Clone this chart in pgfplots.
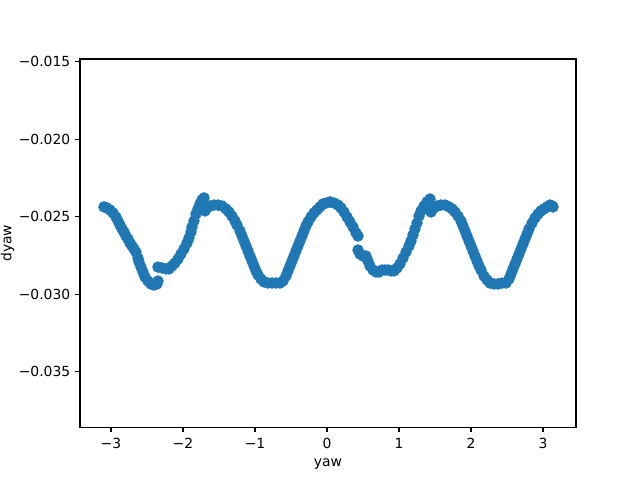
\documentclass[border=0pt]{standalone}
\usepackage{pgfplots}
\pgfplotsset{compat=1.18}
\usepackage{fontspec}
\setmainfont{DejaVu Sans}
\usetikzlibrary{calc}
\definecolor{Czero}{HTML}{1F77B4}
\begin{document}
\begin{tikzpicture}
\begin{axis}[name=ax, scale only axis, width=357.1pt, height=265.2pt,
  xmin=-3.43, xmax=3.458, ymin=-0.03859, ymax=-0.01483,
  xtick={-3,-2,-1,0,1,2,3}, xticklabels={−3,−2,−1,0,1,2,3},
  ytick={-0.035,-0.03,-0.025,-0.02,-0.015},
  yticklabels={−0.035,−0.030,−0.025,−0.020,−0.015},
  scaled y ticks=false, scaled x ticks=false,
  tick align=outside, xtick pos=left, ytick pos=left,
  major tick length=3.5pt, tick style={black, line width=0.8pt},
  axis line style={line width=0.8pt},
  tick label style={font=\fontsize{10}{12}\selectfont},
  label style={font=\fontsize{10}{12}\selectfont},
  xlabel={yaw}, ylabel={dyaw},
  ylabel style={at={(axis description cs:-0.146,0.5)}, anchor=center, inner sep=0pt},
  xticklabel style={yshift=-1pt},
  clip=false]
\addplot[only marks, mark=*, mark size=3.9pt, color=Czero, mark options={fill=Czero, draw=Czero}] table {
x y
-3.0972 -0.02437
-3.0556 -0.02444
-3.0139 -0.02457
-2.9722 -0.02476
-2.9306 -0.02502
-2.9028 -0.02528
-2.8750 -0.02554
-2.8472 -0.02579
-2.8194 -0.02599
-2.7917 -0.02625
-2.7639 -0.02644
-2.7361 -0.02670
-2.7083 -0.02689
-2.6806 -0.02708
-2.6528 -0.02728
-2.6250 -0.02767
-2.6111 -0.02792
-2.5833 -0.02825
-2.5556 -0.02857
-2.5278 -0.02889
-2.4861 -0.02915
-2.4444 -0.02934
-2.4028 -0.02941
-2.3611 -0.02934
-2.3472 -0.02915
-2.3472 -0.02825
-2.2917 -0.02831
-2.2361 -0.02837
-2.1944 -0.02837
-2.1528 -0.02818
-2.1111 -0.02799
-2.0694 -0.02773
-2.0278 -0.02741
-1.9861 -0.02708
-1.9444 -0.02670
-1.9167 -0.02637
-1.8889 -0.02599
-1.8750 -0.02567
-1.8472 -0.02528
-1.8194 -0.02483
-1.7917 -0.02450
-1.7639 -0.02418
-1.7361 -0.02392
-1.7083 -0.02379
-1.6944 -0.02463
-1.6667 -0.02444
-1.6250 -0.02431
-1.5694 -0.02425
-1.5139 -0.02425
-1.4583 -0.02431
-1.4028 -0.02450
-1.3611 -0.02470
-1.3194 -0.02496
-1.2778 -0.02528
-1.2500 -0.02554
-1.2083 -0.02592
-1.1806 -0.02625
-1.1528 -0.02657
-1.1250 -0.02689
-1.0972 -0.02721
-1.0694 -0.02754
-1.0417 -0.02786
-1.0139 -0.02818
-0.9861 -0.02850
-0.9583 -0.02876
-0.9167 -0.02902
-0.8750 -0.02921
-0.8194 -0.02928
-0.7639 -0.02928
-0.7083 -0.02928
-0.6528 -0.02928
-0.6111 -0.02915
-0.5694 -0.02883
-0.5417 -0.02850
-0.5139 -0.02818
-0.4861 -0.02786
-0.4583 -0.02754
-0.4306 -0.02721
-0.4028 -0.02689
-0.3750 -0.02657
-0.3472 -0.02625
-0.3194 -0.02592
-0.2917 -0.02560
-0.2639 -0.02534
-0.2222 -0.02502
-0.1806 -0.02476
-0.1389 -0.02457
-0.0972 -0.02437
-0.0556 -0.02418
-0.0139 -0.02412
0.0417 -0.02405
0.0972 -0.02412
0.1528 -0.02425
0.1944 -0.02444
0.2361 -0.02470
0.2778 -0.02502
0.3194 -0.02534
0.3611 -0.02567
0.4028 -0.02605
0.4306 -0.02625
0.4306 -0.02715
0.4583 -0.02741
0.5000 -0.02754
0.5417 -0.02754
0.5694 -0.02786
0.5972 -0.02818
0.6389 -0.02844
0.6806 -0.02857
0.7222 -0.02857
0.7639 -0.02844
0.8056 -0.02844
0.8472 -0.02844
0.8889 -0.02850
0.9306 -0.02850
0.9722 -0.02831
1.0139 -0.02805
1.0556 -0.02767
1.0972 -0.02728
1.1389 -0.02689
1.1667 -0.02657
1.1944 -0.02618
1.2222 -0.02579
1.2500 -0.02541
1.2778 -0.02496
1.3056 -0.02463
1.3472 -0.02431
1.3889 -0.02405
1.4306 -0.02386
1.4444 -0.02470
1.4861 -0.02444
1.5278 -0.02431
1.5833 -0.02425
1.6389 -0.02425
1.6944 -0.02437
1.7361 -0.02450
1.7778 -0.02470
1.8194 -0.02496
1.8611 -0.02528
1.8889 -0.02560
1.9167 -0.02592
1.9444 -0.02625
1.9722 -0.02657
2.0000 -0.02689
2.0278 -0.02721
2.0556 -0.02754
2.0833 -0.02786
2.1111 -0.02818
2.1389 -0.02844
2.1806 -0.02883
2.2222 -0.02908
2.2639 -0.02928
2.3194 -0.02934
2.3750 -0.02934
2.4306 -0.02928
2.4861 -0.02928
2.5278 -0.02902
2.5556 -0.02870
2.5833 -0.02837
2.6111 -0.02805
2.6389 -0.02773
2.6667 -0.02741
2.6944 -0.02708
2.7222 -0.02676
2.7500 -0.02644
2.7778 -0.02612
2.8056 -0.02579
2.8472 -0.02541
2.8889 -0.02508
2.9306 -0.02483
2.9722 -0.02463
3.0139 -0.02450
3.0556 -0.02437
3.0972 -0.02425
3.1250 -0.02431
3.1389 -0.02437
};
\end{axis}
\path ($(ax.south west)+(-57.6pt,-37.9pt)$) rectangle ($(ax.north east)+(46.08pt,42.48pt)$);
\end{tikzpicture}
\end{document}
